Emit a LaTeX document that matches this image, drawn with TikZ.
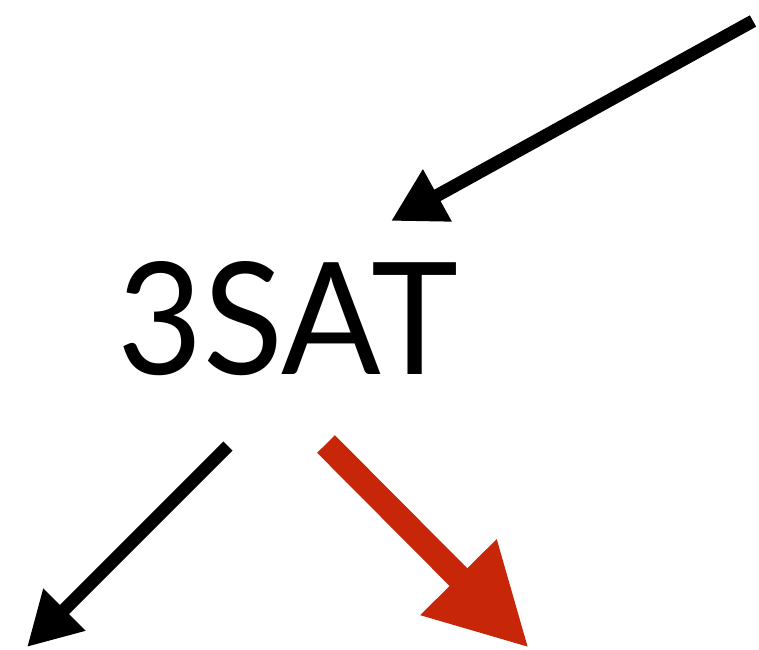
\documentclass[tikz,border=0pt]{standalone}
\usepackage{fontspec}
\setmainfont{Lato}
\usetikzlibrary{arrows.meta}
\definecolor{redarrow}{RGB}{200,38,8}
\tikzset{
  blackarrow/.style={line width=13pt, black, -{Triangle[length=53pt,width=56pt]}},
  bigredarrow/.style={line width=25pt, redarrow, -{Triangle[length=100pt,width=100pt]}},
  label/.style={inner sep=0pt, outer sep=0pt}
}
\begin{document}
\begin{tikzpicture}[x=1pt,y=-1pt]
\useasboundingbox (0,0) rectangle (759,649);
\node[label] (t) at (288,319) {\resizebox{340pt}{113pt}{3SAT}};
\coordinate (a1s) at (753,21);
\coordinate (a1e) at (391,221);
\coordinate (a2s) at (228,446);
\coordinate (a2e) at (27,647);
\coordinate (a3s) at (326,444);
\coordinate (a3e) at (529,648);
\draw[blackarrow] (a1s) -- (a1e);
\draw[blackarrow] (a2s) -- (a2e);
\draw[bigredarrow] (a3s) -- (a3e);
\end{tikzpicture}
\end{document}
